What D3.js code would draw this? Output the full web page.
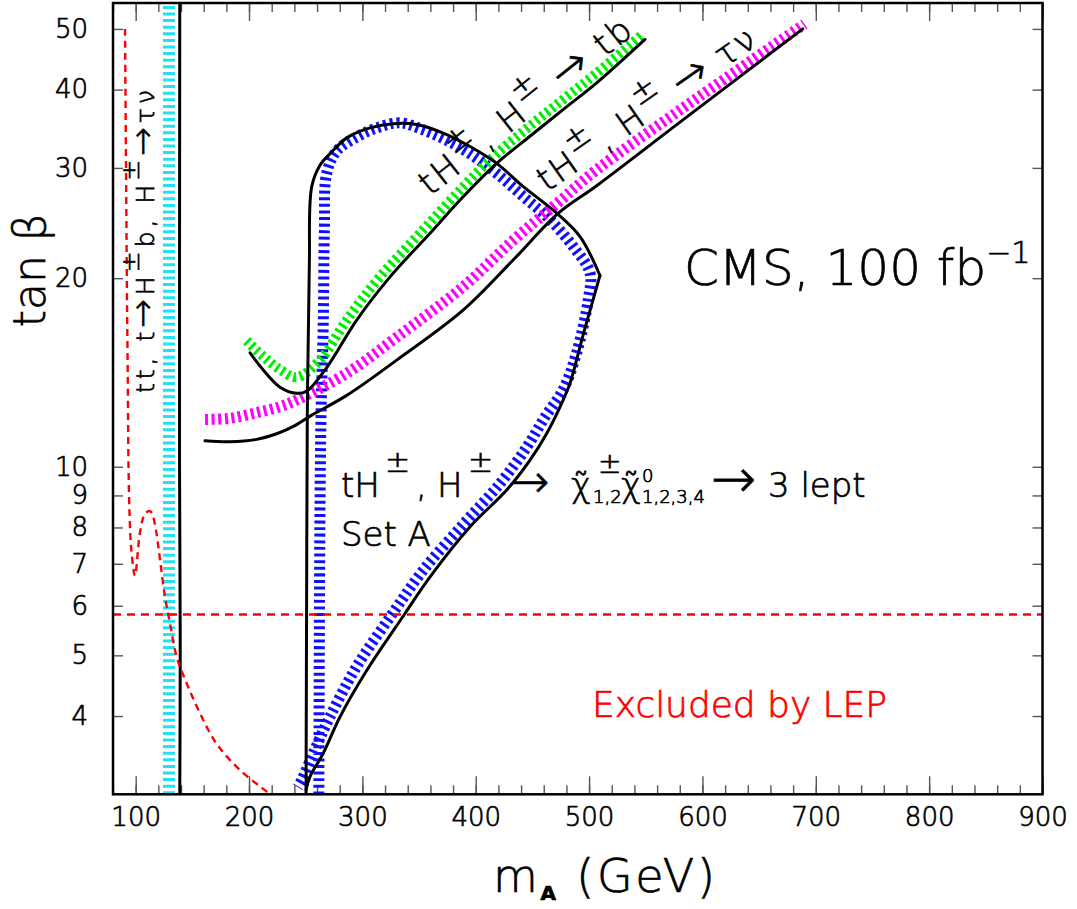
<!DOCTYPE html>
<html>
<head>
<meta charset="utf-8">
<script src="https://cdn.jsdelivr.net/npm/d3@7"></script>
<style>
body { margin: 0; background: #fff; }
svg text { font-family: 'DejaVu Sans', sans-serif; font-weight: 200; }
</style>
</head>
<body>
<script>
// axis values
var xMajor = [100, 200, 300, 400, 500, 600, 700, 800, 900]
var xMinor = d3.range(80, 901, 20)
var yTicks = [4, 5, 6, 7, 8, 9, 10, 20, 30, 40, 50]

// curves, [m_A (GeV), tan beta]
var lepCurve = [[90.6, 50], [91.5, 30], [92.2, 20], [93, 14], [93.7, 10], [94.7, 8.3], [96.2, 7.36], [99.4, 6.7],
  [103.7, 7.83], [108, 8.4], [112, 8.5], [114.1, 8.45], [118, 7.9], [121.5, 7.1], [125.9, 6.2], [130.3, 5.62],
  [136.2, 4.97], [145, 4.51], [156.8, 4.04], [171.5, 3.61], [192, 3.28], [215.6, 3.03], [218.5, 3.0]]
var lepLimit = 5.81

var ttbarHatch = [[129.4, 3], [129.4, 55]]
var ttbarLine = [[138.9, 3], [139.3, 5], [138.7, 10], [138.9, 55]]

// black contour of the 3 lepton channel, corner at index 17
var neutLine = [[250.3, 3.0], [250.8, 6], [251.4, 12], [253.2, 21], [255.3, 28], [262.6, 30.3], [271.4, 31.6],
  [286.2, 33.5], [306.7, 34.75], [327.3, 35.3], [347.9, 35.2], [371.4, 34.1], [395, 32.45], [418.5, 30.5],
  [442, 28.0], [471.4, 25.4], [492, 23.3], [509.6, 20.2], [495, 16.3], [483.2, 13.6], [477.3, 12.8],
  [462.6, 11.3], [447.9, 10.25], [427.3, 9.18], [395, 8.02], [359.7, 6.67], [337, 5.81], [303.8, 4.73],
  [280.3, 3.99], [265.5, 3.49], [253.8, 3.2], [250.3, 3.05]]
var neutHatch = [[261.6, 3.0], [262.5, 8], [263.5, 12], [265.5, 17], [266.5, 24], [268.5, 29.4], [277.3, 31.9],
  [295, 33.6], [312.6, 34.75], [333.2, 35.4], [353.8, 34.5], [374.4, 33.2], [395, 31.6], [418.5, 29.4],
  [442, 27.0], [465.5, 24.8], [486.1, 22.45], [500.8, 20.4], [499.3, 18.5], [489, 15.2], [477.3, 13.3],
  [461, 12.0], [445, 10.75], [421.4, 9.4], [389.1, 8.1], [353.8, 6.84], [326, 5.81], [295, 4.8],
  [271.4, 3.99], [256.7, 3.49], [246.5, 3.16], [243, 3.08]]

var tbLine = [[200.9, 15.2], [212.6, 14.27], [227.3, 13.4], [242.1, 13.1], [250.9, 13.2], [268.5, 14.4],
  [295, 17.15], [324.4, 20.1], [359.7, 23.6], [389.1, 27.0], [418.5, 30.5], [447.8, 33.7], [477.3, 37.2],
  [506.7, 41.0], [549.3, 48.1]]
var tbHatch = [[197.9, 15.9], [212.6, 15.0], [227.3, 14.3], [242.1, 13.9], [262.6, 14.8], [286.2, 17.15],
  [315.6, 20.1], [353.8, 23.9], [389.1, 28], [418.5, 31.6], [447.8, 35], [477.3, 38.6], [506.7, 42.5],
  [547.8, 49.1]]

var tauLine = [[161.2, 11.0], [183.2, 10.96], [206.8, 11.06], [225, 11.3], [240, 11.62], [255, 12.08],
  [286.2, 13.0], [330.3, 14.8], [389.1, 17.8], [433.2, 21.4], [472.9, 25.4], [506.7, 28.1], [580.2, 35.5],
  [640, 42.9], [688.5, 50.0]]
var tauHatch = [[161.2, 11.9], [183.2, 11.95], [206.8, 12.2], [227.3, 12.47], [242, 12.78], [286.2, 14.1],
  [330.3, 16.1], [389.1, 19.4], [433.2, 23.0], [471.4, 26.3], [506.7, 29.8], [580.2, 37.1], [690, 50.9]]

var W = 1077
var H = 909
var svg = d3.select('body').append('svg').attr('width', W).attr('height', H)

var x = d3.scaleLinear().domain([80, 900]).range([113, 1042.5])
var y = d3.scaleLog().domain([3, 55]).range([794.3, 3])

svg.append('clipPath').attr('id', 'plot').append('rect')
  .attr('x', x(80)).attr('y', y(55)).attr('width', x(900) - x(80)).attr('height', y(3) - y(55))

// ticks
function style_ticks (g) {
  g.select('.domain').remove()
  g.selectAll('.tick line').attr('stroke', '#555').attr('stroke-width', 1.4)
  g.selectAll('.tick text').attr('font-size', 26).attr('fill', '#000')
}
svg.append('g').attr('transform', 'translate(0,' + y(3) + ')')
  .call(d3.axisBottom(x).tickValues(xMinor).tickSize(-9).tickFormat('')).call(style_ticks)
svg.append('g').attr('transform', 'translate(0,' + y(3) + ')')
  .call(d3.axisBottom(x).tickValues(xMajor).tickSize(-18).tickPadding(13).tickFormat(d3.format('d'))).call(style_ticks)
svg.append('g').attr('transform', 'translate(0,' + y(55) + ')')
  .call(d3.axisTop(x).tickValues(xMinor).tickSize(-9).tickFormat('')).call(style_ticks)
svg.append('g').attr('transform', 'translate(0,' + y(55) + ')')
  .call(d3.axisTop(x).tickValues(xMajor).tickSize(-18).tickFormat('')).call(style_ticks)
svg.append('g').attr('transform', 'translate(' + x(80) + ',0)')
  .call(d3.axisLeft(y).tickValues(yTicks).tickSize(-10).tickPadding(25).tickFormat(d3.format('d'))).call(style_ticks)
svg.append('g').attr('transform', 'translate(' + x(900) + ',0)')
  .call(d3.axisRight(y).tickValues(yTicks).tickSize(-10).tickFormat('')).call(style_ticks)

// curves
var line = d3.line().x(function (d) { return x(d[0]) }).y(function (d) { return y(d[1]) })
  .curve(d3.curveCatmullRom.alpha(0.5))
var plot = svg.append('g').attr('clip-path', 'url(#plot)')

function hatch (data, color, w) {
  plot.append('path').datum(data).attr('d', line).attr('fill', 'none')
    .attr('stroke', color).attr('stroke-width', w).attr('stroke-dasharray', '3,3.6')
}
function solid (data) {
  plot.append('path').datum(data).attr('d', line).attr('fill', 'none')
    .attr('stroke', '#000').attr('stroke-width', 3).attr('stroke-linejoin', 'round').attr('stroke-linecap', 'round')
}

hatch(ttbarHatch, '#22e2f2', 12)
hatch(neutHatch, '#1010ff', 11)
hatch(tbHatch, '#00ee00', 10)
hatch(tauHatch, '#ff00ff', 11)
solid(ttbarLine)
solid(neutLine.slice(0, 18))
solid(neutLine.slice(17))
solid(tbLine)
solid(tauLine)

plot.append('path').datum(lepCurve).attr('d', line).attr('fill', 'none')
  .attr('stroke', '#ff0000').attr('stroke-width', 2.4).attr('stroke-dasharray', '7,5')
plot.append('line').attr('x1', x(80)).attr('x2', x(900)).attr('y1', y(lepLimit)).attr('y2', y(lepLimit))
  .attr('stroke', '#ff0000').attr('stroke-width', 2.4).attr('stroke-dasharray', '8,6')

// frame
svg.append('rect').attr('x', x(80)).attr('y', y(55)).attr('width', x(900) - x(80)).attr('height', y(3) - y(55))
  .attr('fill', 'none').attr('stroke', '#000').attr('stroke-width', 2.5)

// text helpers
function rich (sel, parts) {
  var cur = 0
  parts.forEach(function (p) {
    var shift = p.shift || 0
    sel.append('tspan').attr('dy', shift - cur).attr('font-size', p.size || null).text(p.t)
    cur = shift
  })
  return sel
}

// axis titles
svg.append('text').attr('transform', 'translate(45,' + y(20.6) + ') rotate(-90)')
  .attr('text-anchor', 'middle').attr('font-size', 44).text('tan β')
var xt = svg.append('text').attr('x', 493).attr('y', 892).attr('font-size', 46)
  .attr('textLength', 222).attr('lengthAdjust', 'spacing')
rich(xt, [{ t: 'm' }, { t: 'A', size: 20, shift: 8 }, { t: ' (GeV)' }])
xt.select('tspan:nth-child(2)').style('font-weight', 'bold')

// CMS
var cms = svg.append('text').attr('x', x(583.7)).attr('y', y(19.5)).attr('font-size', 50)
rich(cms, [{ t: 'CMS, 100 fb' }, { t: '−1', size: 30, shift: -22 }])

svg.append('text').attr('x', x(502.6)).attr('y', y(3.98)).attr('font-size', 36).attr('fill', '#ff0000')
  .attr('textLength', 295).attr('lengthAdjust', 'spacing').text('Excluded by LEP')

// vertical ttbar label
var vt = svg.append('text').attr('transform', 'translate(' + x(116.6) + ',' + y(13.11) + ') rotate(-90)')
  .attr('font-size', 25).attr('textLength', 303).attr('lengthAdjust', 'spacing')
rich(vt, [{ t: 'tt, t' }, { t: '→', size: 34 }, { t: 'H' }, { t: '±', size: 25, shift: -15 }, { t: 'b, H' },
  { t: '±', size: 25, shift: -15 }, { t: '→', size: 34 }, { t: 'τν' }])

// rotated labels
var l1 = svg.append('text').attr('transform', 'translate(' + x(359.7) + ',' + y(27.0) + ') rotate(-38.5)')
  .attr('font-size', 34).attr('textLength', 261).attr('lengthAdjust', 'spacing')
rich(l1, [{ t: 'tH' }, { t: '±', size: 32, shift: -18 }, { t: ', H' }, { t: '±', size: 32, shift: -18 },
  { t: ' ' }, { t: '→', size: 44 }, { t: ' tb' }])
var l2 = svg.append('text').attr('transform', 'translate(' + x(462.9) + ',' + y(27.4) + ') rotate(-35)')
  .attr('font-size', 34).attr('textLength', 258).attr('lengthAdjust', 'spacing')
rich(l2, [{ t: 'tH' }, { t: '±', size: 32, shift: -18 }, { t: ', H' }, { t: '±', size: 32, shift: -18 },
  { t: ' ' }, { t: '→', size: 44 }, { t: ' τν' }])

// neutralino label
var nl = svg.append('g').attr('transform', 'translate(' + x(281.1) + ',' + y(8.95) + ')')
var pieces = [
  { t: 'tH', dx: 0, dy: 0, s: 34 },
  { t: '±', dx: 44, dy: -25, s: 30 },
  { t: ',', dx: 75, dy: 0, s: 34 },
  { t: 'H', dx: 96, dy: 0, s: 34 },
  { t: '±', dx: 127, dy: -25, s: 30 },
  { t: '→', dx: 170, dy: 0, s: 46 },
  { t: 'χ\u0303', dx: 230, dy: 0, s: 34 },
  { t: '±', dx: 257, dy: -24, s: 28 },
  { t: '1,2', dx: 252, dy: 6, s: 18 },
  { t: 'χ\u0303', dx: 280, dy: 0, s: 34 },
  { t: '0', dx: 301, dy: -15, s: 18 },
  { t: '1,2,3,4', dx: 301, dy: 6, s: 18 },
  { t: '→', dx: 370, dy: 0, s: 54 },
  { t: '3 lept', dx: 427, dy: 0, s: 34 },
  { t: 'Set A', dx: 0, dy: 49, s: 34 }
]
pieces.forEach(function (p) {
  nl.append('text').attr('x', p.dx).attr('y', p.dy).attr('font-size', p.s).text(p.t)
})

// a touch heavier than the extra-light face
svg.selectAll('text').attr('stroke', function () { return this.getAttribute('fill') || '#000' })
  .attr('stroke-width', 0.7)
</script>
</body>
</html>
